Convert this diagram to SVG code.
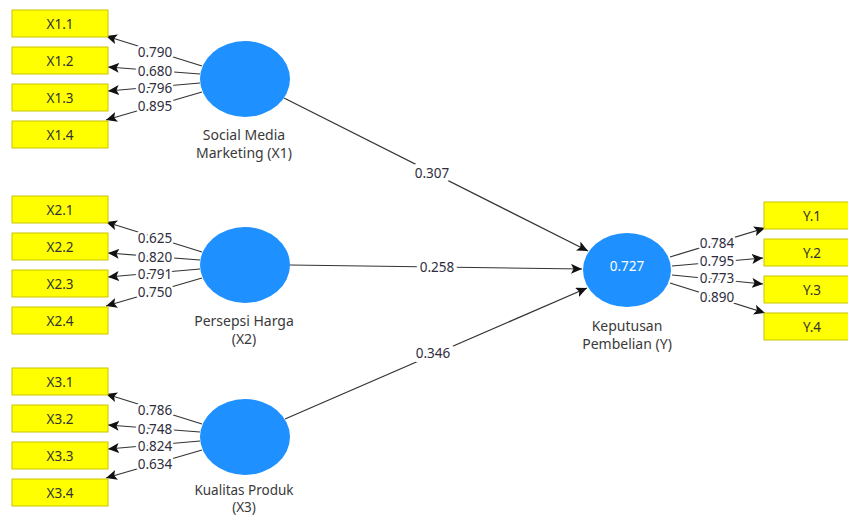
<svg xmlns="http://www.w3.org/2000/svg" width="848" height="517" viewBox="0 0 848 517">
<style>
  text { font-family: "Noto Sans", "Open Sans", "DejaVu Sans", sans-serif; font-size: 13.5px; text-anchor: middle; }
  .box { fill: #ffff00; stroke: #c9c400; stroke-width: 1; }
  .boxt { fill: #333333; }
  .lv { fill: #1e90ff; }
  .lvt { fill: #3a3a3a; font-size: 14px; }
  .r2 { fill: #ffffff; }
  .ln { stroke: #333333; stroke-width: 1.2; fill: none; marker-end: url(#ah); }
  .lbl { fill: #2e2e3e; stroke: #ffffff; stroke-width: 5; paint-order: stroke; stroke-linejoin: round; }
</style>
<defs>
  <marker id="ah" markerUnits="userSpaceOnUse" markerWidth="12" markerHeight="10" refX="11" refY="5" orient="auto">
    <path d="M0,0 L11,5 L0,10 L2.5,5 Z" fill="#111111"/>
  </marker>
</defs>
<rect width="848" height="517" fill="#ffffff"/>
<g id="connectors">
  <line class="ln" x1="202" y1="66" x2="106" y2="36"/>
  <line class="ln" x1="200" y1="74" x2="108" y2="67"/>
  <line class="ln" x1="200" y1="83" x2="108" y2="91"/>
  <line class="ln" x1="202" y1="92" x2="106" y2="120"/>
  <text class="lbl" x="155" y="57">0.790</text>
  <text class="lbl" x="155" y="76">0.680</text>
  <text class="lbl" x="155" y="93">0.796</text>
  <text class="lbl" x="155" y="111">0.895</text>

  <line class="ln" x1="202" y1="252" x2="106" y2="222"/>
  <line class="ln" x1="200" y1="260" x2="108" y2="253"/>
  <line class="ln" x1="200" y1="269" x2="108" y2="277"/>
  <line class="ln" x1="202" y1="278" x2="106" y2="306"/>
  <text class="lbl" x="155" y="243">0.625</text>
  <text class="lbl" x="155" y="262">0.820</text>
  <text class="lbl" x="155" y="279">0.791</text>
  <text class="lbl" x="155" y="297">0.750</text>

  <line class="ln" x1="202" y1="424" x2="106" y2="394"/>
  <line class="ln" x1="200" y1="432" x2="108" y2="425"/>
  <line class="ln" x1="200" y1="441" x2="108" y2="449"/>
  <line class="ln" x1="202" y1="450" x2="106" y2="478"/>
  <text class="lbl" x="155" y="415">0.786</text>
  <text class="lbl" x="155" y="434">0.748</text>
  <text class="lbl" x="155" y="451">0.824</text>
  <text class="lbl" x="155" y="469">0.634</text>

  <line class="ln" x1="670" y1="257" x2="765" y2="228"/>
  <line class="ln" x1="672" y1="266" x2="763" y2="258"/>
  <line class="ln" x1="672" y1="275" x2="763" y2="284"/>
  <line class="ln" x1="670" y1="283" x2="765" y2="313"/>
  <text class="lbl" x="717" y="248">0.784</text>
  <text class="lbl" x="717" y="266">0.795</text>
  <text class="lbl" x="717" y="283">0.773</text>
  <text class="lbl" x="717" y="302">0.890</text>

  <line class="ln" x1="284" y1="98" x2="588" y2="251"/>
  <line class="ln" x1="290" y1="265" x2="582" y2="269"/>
  <line class="ln" x1="285" y1="419" x2="587" y2="288"/>
  <text class="lbl" x="432" y="178" style="stroke-width:9">0.307</text>
  <text class="lbl" x="437" y="272" style="stroke-width:7">0.258</text>
  <text class="lbl" x="433" y="358" style="stroke-width:9">0.346</text>
</g>

<g id="X1.1"><rect class="box" x="12" y="10" width="96" height="27"/><text class="boxt" x="60" y="28.5">X1.1</text></g>
<g id="X1.2"><rect class="box" x="12" y="47" width="96" height="27"/><text class="boxt" x="60" y="65.5">X1.2</text></g>
<g id="X1.3"><rect class="box" x="12" y="84" width="96" height="27"/><text class="boxt" x="60" y="102.5">X1.3</text></g>
<g id="X1.4"><rect class="box" x="12" y="121" width="96" height="27"/><text class="boxt" x="60" y="139.5">X1.4</text></g>

<g id="X2.1"><rect class="box" x="12" y="196" width="96" height="27"/><text class="boxt" x="60" y="214.5">X2.1</text></g>
<g id="X2.2"><rect class="box" x="12" y="233" width="96" height="27"/><text class="boxt" x="60" y="251.5">X2.2</text></g>
<g id="X2.3"><rect class="box" x="12" y="270" width="96" height="27"/><text class="boxt" x="60" y="288.5">X2.3</text></g>
<g id="X2.4"><rect class="box" x="12" y="307" width="96" height="27"/><text class="boxt" x="60" y="325.5">X2.4</text></g>

<g id="X3.1"><rect class="box" x="12" y="368" width="96" height="27"/><text class="boxt" x="60" y="386.5">X3.1</text></g>
<g id="X3.2"><rect class="box" x="12" y="405" width="96" height="27"/><text class="boxt" x="60" y="423.5">X3.2</text></g>
<g id="X3.3"><rect class="box" x="12" y="442" width="96" height="27"/><text class="boxt" x="60" y="460.5">X3.3</text></g>
<g id="X3.4"><rect class="box" x="12" y="479" width="96" height="27"/><text class="boxt" x="60" y="497.5">X3.4</text></g>

<g id="Y.1"><rect class="box" x="764" y="202" width="96" height="27"/><text class="boxt" x="812" y="220.5">Y.1</text></g>
<g id="Y.2"><rect class="box" x="764" y="239" width="96" height="27"/><text class="boxt" x="812" y="257.5">Y.2</text></g>
<g id="Y.3"><rect class="box" x="764" y="276" width="96" height="27"/><text class="boxt" x="812" y="294.5">Y.3</text></g>
<g id="Y.4"><rect class="box" x="764" y="313" width="96" height="27"/><text class="boxt" x="812" y="331.5">Y.4</text></g>

<g id="X1">
  <ellipse class="lv" cx="245" cy="79" rx="45" ry="38"/>
  <text class="lvt" x="244" y="140">Social Media</text>
  <text class="lvt" x="244" y="158">Marketing (X1)</text>
</g>
<g id="X2">
  <ellipse class="lv" cx="245" cy="265" rx="45" ry="38"/>
  <text class="lvt" x="244" y="326">Persepsi Harga</text>
  <text class="lvt" x="244" y="344">(X2)</text>
</g>
<g id="X3">
  <ellipse class="lv" cx="245" cy="437" rx="45" ry="38"/>
  <text class="lvt" x="244" y="495" style="font-size:13.5px">Kualitas Produk</text>
  <text class="lvt" x="244" y="512" style="font-size:13.5px">(X3)</text>
</g>
<g id="Y">
  <ellipse class="lv" cx="627" cy="270" rx="44" ry="37"/>
  <text class="r2" x="627" y="271">0.727</text>
  <text class="lvt" x="627" y="331">Keputusan</text>
  <text class="lvt" x="627" y="349">Pembelian (Y)</text>
</g>
</svg>
